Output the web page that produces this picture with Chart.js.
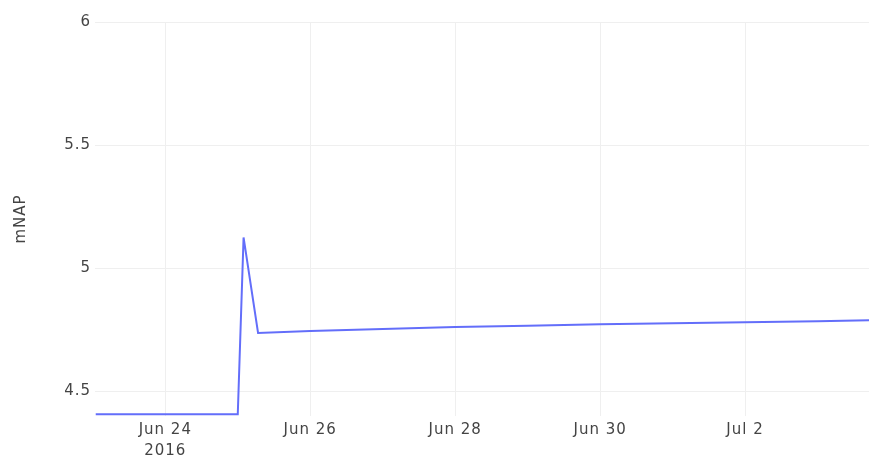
<!DOCTYPE html>
<html lang="en">
<head>
    <meta charset="UTF-8">
    <title>mNAP</title>
    <script src="https://cdn.jsdelivr.net/npm/chart.js"></script>
    <style>
        html, body { margin: 0; padding: 0; background: #fff; }
        #wrap { width: 869px; height: 460px; position: relative; }
    </style>
</head>
<body>
    <div id="wrap"><canvas id="napChart"></canvas></div>

    <script>
        // days counted from Jun 23 2016 00:00
        const days = [0.04, 2.0, 2.08, 2.28, 3, 4, 5, 6, 7, 8, 9, 10, 10.71];
        const mnap = [4.407, 4.407, 5.125, 4.737, 4.745, 4.753, 4.761, 4.767, 4.773, 4.777, 4.781, 4.785, 4.789];

        const xTickDays = [1, 3, 5, 7, 9];
        const xTickLabels = [['Jun 24', '2016'], 'Jun 26', 'Jun 28', 'Jun 30', 'Jul 2'];
        const yTicks = [4.5, 5, 5.5, 6];

        const points = days.map((d, i) => ({ x: d, y: mnap[i] }));
        const font = { family: "'DejaVu Sans', sans-serif", size: 15, lineHeight: 1.4 };

        // the labels in the picture are drawn wide, so space the letters a bit
        const wideText = {
            id: 'wideText',
            beforeDraw: (chart) => { chart.ctx.letterSpacing = '1px'; }
        };

        const ctx = document.getElementById('napChart').getContext('2d');
        new Chart(ctx, {
            type: 'line',
            data: {
                datasets: [{
                    label: 'mNAP',
                    data: points,
                    borderColor: '#636efa',
                    borderWidth: 2,
                    pointRadius: 0,
                    tension: 0,
                    fill: false
                }]
            },
            plugins: [wideText],
            options: {
                responsive: true,
                maintainAspectRatio: false,
                animation: false,
                layout: { padding: { top: 22, right: 0, bottom: 0, left: 0 } },
                plugins: {
                    legend: { display: false },
                    tooltip: { enabled: false }
                },
                scales: {
                    x: {
                        type: 'linear',
                        min: 0.03,
                        max: 10.71,
                        afterBuildTicks: (scale) => { scale.ticks = xTickDays.map(v => ({ value: v })); },
                        afterFit: (scale) => { scale.height = 44; },
                        ticks: {
                            color: '#444',
                            font: font,
                            padding: 4,
                            maxRotation: 0,
                            autoSkip: false,
                            callback: (v) => xTickLabels[xTickDays.indexOf(v)]
                        },
                        grid: { color: '#efefef', drawTicks: false },
                        border: { display: false }
                    },
                    y: {
                        min: 4.4,
                        max: 6,
                        afterBuildTicks: (scale) => { scale.ticks = yTicks.map(v => ({ value: v })); },
                        afterFit: (scale) => { scale.width = 95; },
                        ticks: {
                            color: '#444',
                            font: font,
                            padding: 4,
                            callback: (v) => String(v)
                        },
                        title: {
                            display: true,
                            text: 'mNAP',
                            color: '#444',
                            font: { family: "'DejaVu Sans', sans-serif", size: 15 },
                            padding: { top: 12, bottom: 0 }
                        },
                        grid: { color: '#efefef', drawTicks: false },
                        border: { display: false }
                    }
                }
            }
        });
    </script>
</body>
</html>
